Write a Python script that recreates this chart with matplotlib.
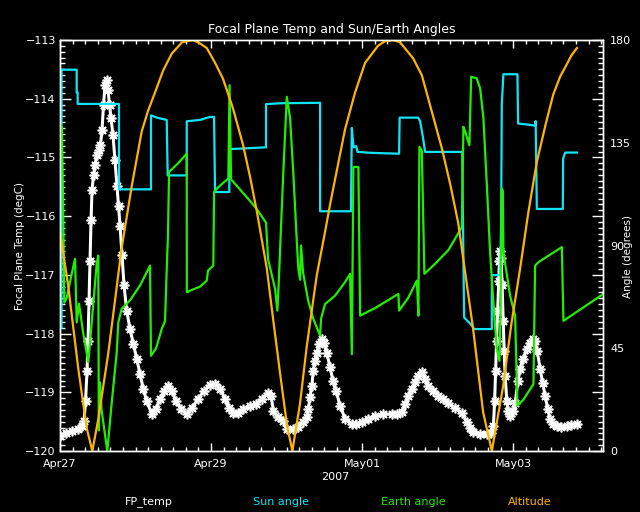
import matplotlib
matplotlib.use("Agg")
import matplotlib.pyplot as plt
from matplotlib.ticker import MultipleLocator, FixedLocator

# time in days since 2007-04-27 00:00
fp_day = [0.000, 0.079, 0.159, 0.238, 0.291, 0.318, 0.338, 0.358, 0.371, 0.384,
          0.397, 0.411, 0.424, 0.444, 0.464, 0.490, 0.517, 0.536, 0.556, 0.576,
          0.596, 0.616, 0.636, 0.656, 0.675, 0.702, 0.728, 0.755, 0.775, 0.795,
          0.821, 0.848, 0.883, 0.927, 0.971, 1.016, 1.060, 1.103, 1.148, 1.215,
          1.272, 1.325, 1.377, 1.434, 1.483, 1.536, 1.603, 1.678, 1.748, 1.828,
          1.907, 1.987, 2.053, 2.119, 2.185, 2.238, 2.295, 2.358, 2.424, 2.517,
          2.596, 2.675, 2.759, 2.795, 2.825, 2.887, 2.958, 3.007, 3.086, 3.152,
          3.223, 3.268, 3.289, 3.311, 3.334, 3.355, 3.377, 3.400, 3.430, 3.466,
          3.497, 3.532, 3.576, 3.616, 3.656, 3.709, 3.775, 3.864, 3.921, 3.996,
          4.079, 4.172, 4.278, 4.393, 4.464, 4.526, 4.570, 4.613, 4.658, 4.702,
          4.742, 4.791, 4.834, 4.878, 4.940, 5.011, 5.073, 5.143, 5.232, 5.320,
          5.387, 5.430, 5.474, 5.563, 5.652, 5.709, 5.739, 5.755, 5.768, 5.781,
          5.795, 5.808, 5.819, 5.828, 5.841, 5.854, 5.868, 5.881, 5.894, 5.917,
          5.934, 5.960, 6.000, 6.026, 6.066, 6.093, 6.132, 6.181, 6.225, 6.269,
          6.291, 6.318, 6.358, 6.391, 6.424, 6.457, 6.490, 6.530, 6.579, 6.636,
          6.711, 6.768, 6.844]
fp_temp = [-119.74, -119.69, -119.66, -119.62, -119.57, -119.49, -119.15, -118.63, -118.12, -117.44,
           -116.76, -116.07, -115.56, -115.30, -115.13, -114.96, -114.88, -114.79, -114.54, -114.11,
           -113.77, -113.68, -113.85, -114.11, -114.33, -114.62, -115.05, -115.48, -115.82, -116.16,
           -116.67, -117.18, -117.61, -117.92, -118.17, -118.43, -118.69, -118.94, -119.15, -119.37,
           -119.28, -119.11, -118.98, -118.89, -118.98, -119.15, -119.28, -119.37, -119.27, -119.11,
           -118.98, -118.87, -118.86, -118.94, -119.11, -119.27, -119.35, -119.35, -119.28, -119.23,
           -119.20, -119.11, -119.01, -119.06, -119.32, -119.42, -119.49, -119.62, -119.62, -119.59,
           -119.50, -119.42, -119.28, -119.08, -118.89, -118.63, -118.46, -118.33, -118.17, -118.09,
           -118.16, -118.33, -118.57, -118.81, -118.98, -119.23, -119.45, -119.54, -119.54, -119.50,
           -119.45, -119.40, -119.37, -119.37, -119.37, -119.33, -119.20, -119.06, -118.94, -118.82,
           -118.72, -118.65, -118.77, -118.89, -118.98, -119.06, -119.11, -119.18, -119.27, -119.35,
           -119.50, -119.61, -119.68, -119.71, -119.71, -119.69, -119.57, -119.15, -118.63, -118.12,
           -117.61, -117.10, -116.76, -116.60, -116.72, -117.18, -117.78, -118.29, -118.72, -119.15,
           -119.32, -119.40, -119.32, -119.18, -118.80, -118.60, -118.43, -118.26, -118.16, -118.09,
           -118.12, -118.29, -118.60, -118.84, -119.06, -119.28, -119.45, -119.54, -119.57, -119.59,
           -119.57, -119.55, -119.54]

sun_day = [0.020, 0.020, 0.221, 0.221, 0.234, 0.234, 0.781, 0.781, 1.205, 1.205,
           1.281, 1.413, 1.426, 1.678, 1.678, 1.854, 1.987, 2.040, 2.053, 2.242,
           2.242, 2.728, 2.728, 2.914, 3.444, 3.444, 3.854, 3.854, 3.864, 3.887,
           3.921, 3.940, 4.106, 4.490, 4.497, 4.742, 4.768, 4.808, 4.834, 5.325,
           5.351, 5.453, 5.483, 5.718, 5.718, 5.828, 5.841, 5.850, 5.871, 6.057,
           6.066, 6.185, 6.291, 6.298, 6.314, 6.658, 6.662, 6.689, 6.844]
sun_ang = [54, 167, 167, 157, 157, 152, 152, 114.6, 114.6, 147,
           146, 145, 120.7, 120.7, 144.4, 145, 146.3, 146.3, 113.4, 113.4,
           132.2, 133, 151.9, 152.3, 152.5, 105, 105, 109, 141.5, 133,
           133.5, 131, 130.6, 130.2, 146, 146, 144.5, 137, 131, 131,
           58.5, 55, 53.4, 53.4, 77, 77, 100, 152, 165, 165,
           143.4, 143, 142.5, 144.5, 106, 106, 128, 130.7, 130.7]

earth_day = [0.000, 0.026, 0.040, 0.057, 0.089, 0.132, 0.199, 0.221, 0.252, 0.305,
             0.375, 0.424, 0.486, 0.507, 0.514, 0.530, 0.550, 0.626, 0.685, 0.751,
             0.772, 0.817, 0.927, 1.060, 1.192, 1.205, 1.272, 1.347, 1.391, 1.413,
             1.430, 1.444, 1.563, 1.678, 1.679, 1.722, 1.854, 1.943, 1.960, 2.030,
             2.040, 2.079, 2.146, 2.229, 2.245, 2.265, 2.384, 2.517, 2.605, 2.728,
             2.755, 2.848, 2.878, 2.894, 2.954, 3.003, 3.046, 3.090, 3.135, 3.156,
             3.179, 3.192, 3.219, 3.285, 3.355, 3.444, 3.457, 3.510, 3.642, 3.775,
             3.841, 3.864, 3.885, 3.951, 3.974, 4.172, 4.481, 4.490, 4.609, 4.725,
             4.746, 4.759, 4.791, 4.825, 4.967, 5.143, 5.320, 5.342, 5.364, 5.421,
             5.444, 5.519, 5.563, 5.606, 5.652, 5.695, 5.739, 5.784, 5.819, 5.834,
             5.850, 5.864, 5.871, 5.960, 6.026, 6.057, 6.136, 6.269, 6.291, 6.335,
             6.645, 6.666, 7.195]
earth_ang = [144.4, 141, 110, 65, 67, 74, 84.2, 56.3, 64.5, 52,
             38.8, 58, 82, 85.6, 9, 30, 18, 0, 21.2, 43.2,
             56.3, 62.3, 66, 72.5, 81.2, 41.7, 45, 53.4, 57, 79.7,
             95, 122.2, 126, 130.2, 69.5, 70.2, 72, 74.6, 79, 81.2,
             113.4, 115, 117, 119.3, 160.2, 119, 114.5, 109.5, 106, 100,
             84, 71, 61.5, 72, 120, 155.1, 146, 121.4, 92.2, 79.7,
             75, 90, 78, 66, 57.8, 50.5, 58, 64.4, 68, 74,
             77.6, 42.4, 124.4, 124.4, 59.3, 62.6, 68.8, 61.5, 67, 74.6,
             59.3, 133.2, 131.5, 77.6, 82, 88, 98, 142, 140, 133.9,
             163.9, 163.2, 158.8, 146, 116.5, 87, 65, 44.6, 39.5, 60,
             114.9, 114, 87, 68, 59.3, 19.8, 22.5, 29.3, 81.2, 82.7,
             89.3, 57, 68.8]

alt_day = [0.000, 0.110, 0.242, 0.354, 0.428, 0.507, 0.640, 0.817, 0.950, 1.082,
           1.166, 1.258, 1.364, 1.479, 1.616, 1.762, 1.854, 1.943, 2.053, 2.159,
           2.291, 2.424, 2.517, 2.609, 2.738, 2.821, 2.914, 3.007, 3.077, 3.179,
           3.268, 3.400, 3.510, 3.576, 3.775, 3.907, 4.040, 4.212, 4.305, 4.411,
           4.503, 4.675, 4.791, 5.056, 5.166, 5.272, 5.470, 5.603, 5.718, 5.868,
           5.974, 6.093, 6.199, 6.314, 6.430, 6.530, 6.623, 6.689, 6.768, 6.844]
alt_val = [96, 72, 36, 10, 0, 14, 43, 89, 116, 140,
           149, 157, 166.5, 174, 179, 180, 178.5, 176.5, 170, 163,
           150, 134, 120, 104.5, 80, 58, 34, 11, 0, 21,
           46, 77, 96, 108, 141, 157, 170, 177.5, 179.5, 180,
           179, 172, 164.6, 132.6, 117, 100, 53.5, 17, 0, 28.5,
           55, 80, 104, 126.6, 143, 156, 164, 168, 173, 176.5]

date_ticks = [0, 2, 4, 6]
date_labels = ['Apr27', 'Apr29', 'May01', 'May03']
angle_ticks = [0, 45, 90, 135, 180]

c_sun = '#10E4F8'
c_earth = '#22EE00'
c_alt = '#FFB400'

W, H = 640, 512
fig = plt.figure(figsize=(6.4, 5.12), dpi=100, facecolor='black')
ax = fig.add_axes([60 / W, 61 / H, 543 / W, 411 / H])
ax.set_facecolor('black')
ax.set_xlim(0, 7.19)
ax.set_ylim(-120, -113)

ax.plot(fp_day, fp_temp, color='white', lw=2.2, marker=(8, 2, 0), ms=7, mew=1.2)

ax2 = ax.twinx()
ax2.set_ylim(0, 180)
ax2.plot(sun_day, sun_ang, color=c_sun, lw=1.6)
ax2.plot(earth_day, earth_ang, color=c_earth, lw=1.6)
ax2.plot(alt_day, alt_val, color=c_alt, lw=1.6)

# axes styling (IDL-like: ticks inside on all sides)
ax.xaxis.set_major_locator(FixedLocator(date_ticks))
ax.set_xticklabels(date_labels)
ax.xaxis.set_minor_locator(MultipleLocator(1 / 6))
ax.yaxis.set_major_locator(MultipleLocator(1))
ax.yaxis.set_minor_locator(MultipleLocator(0.1))
ax.tick_params(axis='x', which='major', direction='in', length=6, width=1,
               top=True, colors='white', labelsize=8, pad=6)
ax.tick_params(axis='x', which='minor', direction='in', length=2.7, width=1,
               top=True, colors='white')
ax.tick_params(axis='y', which='major', direction='in', length=8, width=1,
               left=True, right=True, colors='white', labelsize=8, pad=3)
ax.tick_params(axis='y', which='minor', direction='in', length=3.6, width=1,
               left=True, right=True, colors='white')
ax2.set_yticks(angle_ticks)
ax2.tick_params(axis='y', length=0, colors='white', labelsize=8, pad=5)
for a in (ax, ax2):
    for s in a.spines.values():
        s.set_color('white')
        s.set_linewidth(1)

fig.text(332 / W, 1 - 30 / H, 'Focal Plane Temp and Sun/Earth Angles',
         color='white', fontsize=9, ha='center', va='center')
fig.text(20 / W, 1 - 246 / H, 'Focal Plane Temp (degC)', color='white',
         fontsize=7.5, rotation=90, ha='center', va='center')
fig.text(628 / W, 1 - 256 / H, 'Angle (degrees)', color='white',
         fontsize=7.5, rotation=90, ha='center', va='center')
fig.text(335 / W, 1 - 477 / H, '2007', color='white', fontsize=8,
         ha='center', va='center')

legend_items = [('FP_temp', 'white', 149), ('Sun angle', c_sun, 281),
                ('Earth angle', c_earth, 413), ('Altitude', c_alt, 530)]
for txt, col, xp in legend_items:
    fig.text(xp / W, 1 - 502 / H, txt, color=col, fontsize=8,
             ha='center', va='center')

fig.savefig('out.png', dpi=100, facecolor='black')
